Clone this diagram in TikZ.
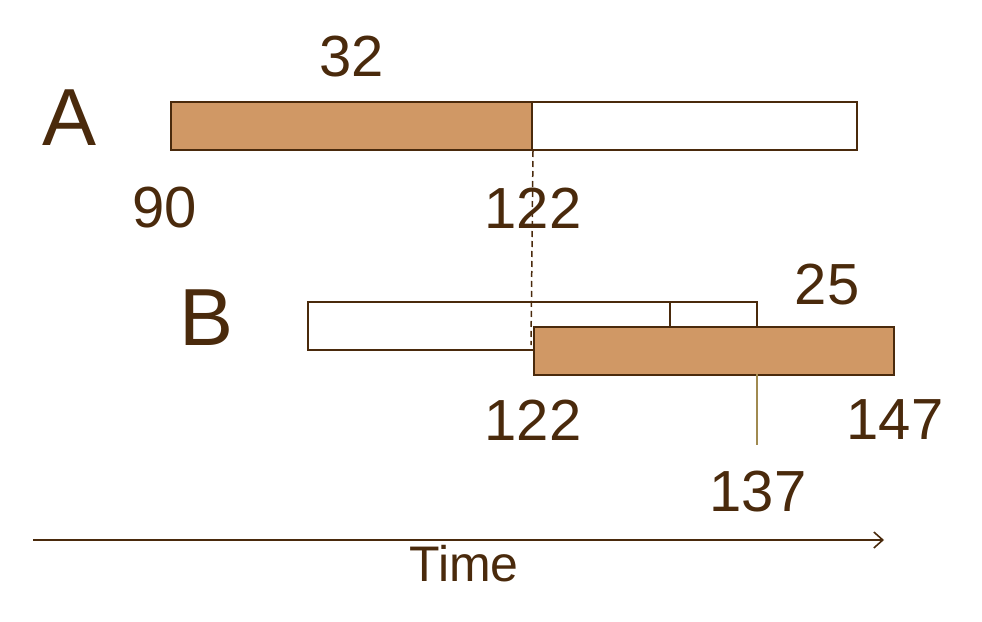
\documentclass[tikz,border=0pt]{standalone}
\usepackage{fontspec}
\setmainfont{Liberation Sans}
\usetikzlibrary{arrows.meta}
\definecolor{brn}{RGB}{74,42,12}
\definecolor{fillc}{RGB}{208,152,101}
\definecolor{olive}{RGB}{160,138,80}
\begin{document}
\begin{tikzpicture}[x=1pt,y=-1pt,
  bar/.style={draw=brn,line width=2pt,inner sep=0pt,anchor=north west},
  lab/.style={text=brn,font=\fontsize{58}{66}\selectfont,inner sep=0pt},
  big/.style={text=brn,font=\fontsize{81}{90}\selectfont,inner sep=0pt}]
\useasboundingbox (0,0) rectangle (982,621);
% A row
\node[bar,fill=fillc,minimum width=361pt,minimum height=48pt] (a1) at (170,101) {};
\node[bar,fill=white,minimum width=325pt,minimum height=48pt] (a2) at (531,101) {};
% B row
\node[bar,fill=white,minimum width=362pt,minimum height=48pt] (b1) at (307,301) {};
\node[bar,fill=white,minimum width=87pt,minimum height=25pt] (b3) at (669,301) {};
\coordinate (d1) at (531,345);
\draw[brn,line width=1.5pt,dash pattern=on 6pt off 4pt] (a1.south east) -- (d1);
\node[bar,fill=fillc,minimum width=360pt,minimum height=48pt] (b2) at (533,326) {};
\coordinate (c137top) at (757,374);
\coordinate (c137) at (757,445);
\draw[olive,line width=1.5pt] (c137top) -- (c137);
% labels
\node[big] (la) at (70,118) {A};
\node[big] (lb) at (207,318) {B};
\node[lab] (l32) at (352,57) {32};
\node[lab] (l90) at (165,208) {90};
\node[lab] (l122a) at (533,208) {122};
\node[lab] (l25) at (827,285) {25};
\node[lab] (l122b) at (533,420) {122};
\node[lab] (l147) at (895,420) {147};
\node[lab] (l137) at (758,492) {137};
% time axis
\coordinate (t0) at (33,540);
\coordinate (t1) at (884,540);
\draw[brn,line width=1.6pt,-{Straight Barb[length=9pt,width=16pt,line width=1.6pt]}] (t0) -- (t1);
\node[text=brn,font=\fontsize{50}{58}\selectfont,inner sep=0pt] (time) at (464,564) {Time};
\end{tikzpicture}
\end{document}
